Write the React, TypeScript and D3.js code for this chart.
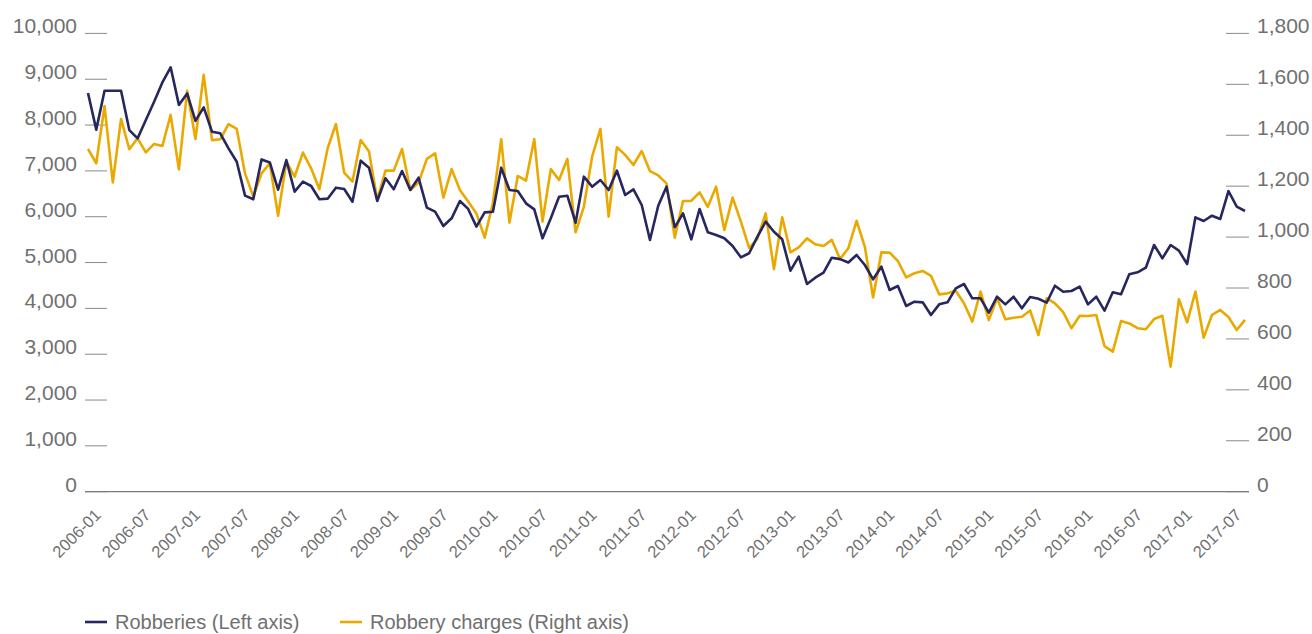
import React from "react";
import * as d3 from "d3";

// monthly categories, 2006-01 .. 2017-09
const months = d3
  .timeMonth.range(new Date(2006, 0, 1), new Date(2017, 9, 1))
  .map((d) => d3.timeFormat("%Y-%m")(d));

// Robberies (left axis)
const robberies = [
  8700, 7900, 8750, 8750, 8750, 7890, 7710, 8110, 8510, 8930, 9260, 8440,
  8690, 8090, 8385, 7855, 7820, 7490, 7200, 6460, 6380, 7250, 7185, 6590,
  7237, 6546, 6764, 6670, 6380, 6394, 6634, 6605, 6328, 7223, 7070, 6343,
  6838, 6598, 6998, 6583, 6852, 6197, 6110, 5797, 5965, 6343, 6170, 5783,
  6095, 6110, 7070, 6583, 6561, 6292, 6161, 5529, 5965, 6437, 6459, 5870,
  6874, 6655, 6801, 6583, 7004, 6474, 6598, 6256, 5492, 6240, 6655, 5769,
  6074, 5507, 6168, 5660, 5601, 5529, 5361, 5114, 5202, 5565, 5892, 5673,
  5507, 4822, 5128, 4532, 4670, 4779, 5106, 5075, 5000, 5165, 4946, 4634,
  4910, 4401, 4488, 4052, 4146, 4132, 3855, 4088, 4132, 4438, 4532, 4220,
  4220, 3906, 4255, 4088, 4255, 4001, 4248, 4210, 4124, 4495, 4364, 4379,
  4473, 4088, 4255, 3950, 4350, 4307, 4743, 4787, 4888, 5383, 5092, 5383,
  5259, 4968, 5987, 5907, 6022, 5950, 6561, 6219, 6125,
];

// Robbery charges (right axis)
const charges = [
  1346, 1290, 1515, 1215, 1464, 1345, 1388, 1333, 1366, 1358, 1480, 1266,
  1575, 1385, 1637, 1381, 1384, 1444, 1425, 1250, 1159, 1250, 1290, 1084,
  1296, 1237, 1332, 1270, 1188, 1349, 1444, 1253, 1218, 1381, 1336, 1146,
  1261, 1261, 1346, 1185, 1214, 1307, 1329, 1155, 1267, 1185, 1140, 1093,
  998, 1135, 1384, 1057, 1240, 1222, 1385, 1061, 1267, 1224, 1307, 1019,
  1119, 1316, 1425, 1080, 1353, 1323, 1283, 1338, 1259, 1242, 1211, 998,
  1142, 1142, 1176, 1119, 1198, 1028, 1155, 1061, 958, 993, 1093, 874,
  1078, 940, 960, 995, 972, 965, 989, 914, 956, 1064, 962, 763,
  940, 939, 906, 842, 858, 867, 848, 775, 779, 789, 740, 668,
  786, 674, 760, 677, 683, 687, 712, 615, 760, 740, 705, 642,
  691, 690, 694, 572, 550, 670, 661, 642, 638, 678, 691, 491,
  756, 665, 786, 605, 694, 714, 686, 635, 675,
];

const leftTicks = [0, 1000, 2000, 3000, 4000, 5000, 6000, 7000, 8000, 9000, 10000];
const rightTicks = [0, 200, 400, 600, 800, 1000, 1200, 1400, 1600, 1800];

const NAVY = "#27275f";
const GOLD = "#e9a900";
const GREY = "#707070";
const FONT = "'Liberation Sans', Arial, sans-serif";

export default function App() {
  const width = 1312;
  const height = 634;

  const x = d3.scalePoint<string>().domain(months).range([88, 1245]);
  const yL = d3.scaleLinear().domain([0, 10000]).range([491.7, 33.4]);
  const yR = d3.scaleLinear().domain([0, 1800]).range([491.7, 33.4]);

  const lineL = d3
    .line<number>()
    .x((_, i) => x(months[i]) as number)
    .y((d) => yL(d));
  const lineR = d3
    .line<number>()
    .x((_, i) => x(months[i]) as number)
    .y((d) => yR(d));

  const fmt = d3.format(",");
  const xLabels = months.filter((_, i) => i % 6 === 0);

  return (
    <svg
      width={width}
      height={height}
      style={{ position: "absolute", left: 0, top: 0, background: "#fff" }}
      fontFamily={FONT}
    >
      {/* left axis */}
      {leftTicks.map((t) => (
        <g key={"l" + t}>
          <line x1={85} x2={107} y1={yL(t)} y2={yL(t)} stroke="#8a8a8a" strokeWidth={1} />
          <text x={77} y={yL(t)} textAnchor="end" fontSize={21} fill={GREY}>
            {fmt(t)}
          </text>
        </g>
      ))}
      {/* right axis */}
      {rightTicks.map((t) => (
        <g key={"r" + t}>
          <line x1={1226} x2={1249} y1={yR(t)} y2={yR(t)} stroke="#8a8a8a" strokeWidth={1} />
          <text x={1257} y={yR(t)} textAnchor="start" fontSize={21} fill={GREY}>
            {fmt(t)}
          </text>
        </g>
      ))}
      {/* baseline */}
      <line x1={85} x2={1249} y1={491.7} y2={491.7} stroke="#7a7a7a" strokeWidth={1.2} />

      {/* x labels */}
      {xLabels.map((m) => (
        <text
          key={m}
          transform={`translate(${(x(m) as number) + 14},${516}) rotate(-45)`}
          textAnchor="end"
          fontSize={16.5}
          fill={GREY}
        >
          {m}
        </text>
      ))}

      <path d={lineR(charges) || ""} fill="none" stroke={GOLD} strokeWidth={2.6} strokeLinejoin="round" />
      <path d={lineL(robberies) || ""} fill="none" stroke={NAVY} strokeWidth={2.6} strokeLinejoin="round" />

      {/* legend */}
      <g fontSize={20} fill={GREY}>
        <line x1={85} x2={107} y1={622} y2={622} stroke={NAVY} strokeWidth={2.6} />
        <text x={115} y={629}>Robberies (Left axis)</text>
        <line x1={340} x2={362} y1={622} y2={622} stroke={GOLD} strokeWidth={2.6} />
        <text x={370} y={629}>Robbery charges (Right axis)</text>
      </g>
    </svg>
  );
}
